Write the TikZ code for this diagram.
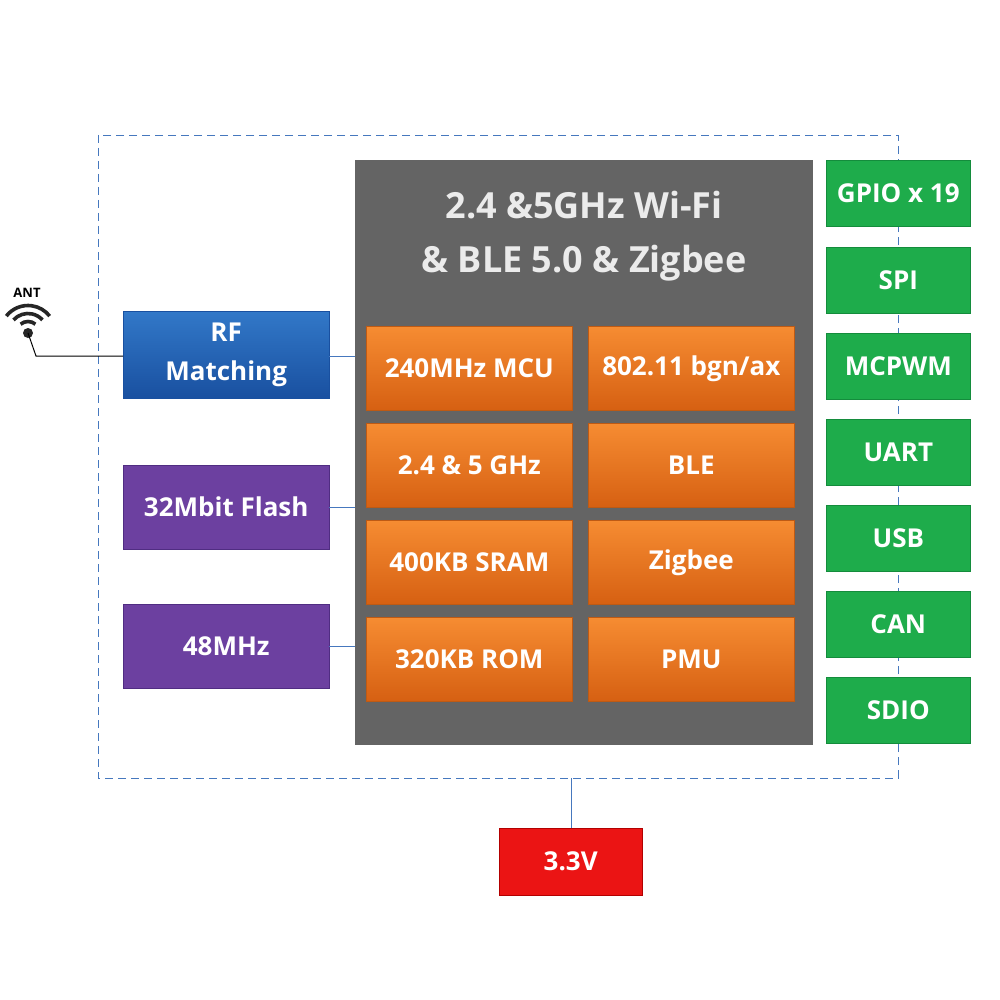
\documentclass[tikz,border=0pt]{standalone}
\usepackage{fontspec}
\setmainfont{Open Sans}
\definecolor{cOrT}{RGB}{246,140,50}
\definecolor{cOrB}{RGB}{214,96,18}
\definecolor{cOrD}{RGB}{190,90,20}
\definecolor{cGr}{RGB}{30,172,75}
\definecolor{cGrD}{RGB}{20,140,60}
\definecolor{cBlT}{RGB}{50,120,200}
\definecolor{cBlB}{RGB}{25,80,160}
\definecolor{cPu}{RGB}{108,64,160}
\definecolor{cPuD}{RGB}{80,45,130}
\definecolor{cRd}{RGB}{235,20,20}
\definecolor{cGy}{RGB}{100,100,100}
\definecolor{cLn}{RGB}{70,120,190}
\begin{document}
\begin{tikzpicture}[x=1pt,y=-1pt,
 box/.style={draw=none,minimum width=#1,inner sep=0pt,text=white,font=\bfseries\fontsize{26}{32}\selectfont,align=center,anchor=north west},
 org/.style={box=206pt,minimum height=84pt,top color=cOrT,bottom color=cOrB,draw=cOrD,line width=0.6pt},
 grn/.style={box=144pt,minimum height=66pt,fill=cGr,draw=cGrD,line width=0.6pt},
 lnk/.style={draw=cLn,line width=0.9pt},
 wave/.style={black!85,line width=3.6pt}]
\useasboundingbox (0,0) rectangle (1000,1000);
\fill[white] (0,0) rectangle (1000,1000);
\draw[cLn,line width=0.9pt,dash pattern=on 8pt off 5pt] (98,135) rectangle (898,778);
\node[box=458pt,minimum height=585pt,fill=cGy] (soc) at (355,160) {};
\node[text=black!8,font=\bfseries\fontsize{36}{54}\selectfont,align=center] (title) at (584,236) {2.4 \&5GHz Wi-Fi\\\& BLE 5.0 \& Zigbee};
\node[org] (mcu) at (366,326) {240MHz MCU};
\node[org] (wifi) at (588,326) {802.11 bgn/ax};
\node[org] (ghz) at (366,423) {2.4 \& 5 GHz};
\node[org] (ble) at (588,423) {BLE};
\node[org] (sram) at (366,520) {400KB SRAM};
\node[org] (zig) at (588,520) {Zigbee};
\node[org] (rom) at (366,617) {320KB ROM};
\node[org] (pmu) at (588,617) {PMU};
\node[grn] (gpio) at (826,160) {GPIO x 19};
\node[grn] (spi) at (826,247) {SPI};
\node[grn] (pwm) at (826,333) {MCPWM};
\node[grn] (uart) at (826,419) {UART};
\node[grn] (usb) at (826,505) {USB};
\node[grn] (can) at (826,591) {CAN};
\node[grn] (sdio) at (826,677) {SDIO};
\node[box=206pt,minimum height=87pt,top color=cBlT,bottom color=cBlB,draw=cBlB,font=\bfseries\fontsize{26}{39}\selectfont] (rf) at (123,311) {RF\\Matching};
\node[box=206pt,minimum height=84pt,fill=cPu,draw=cPuD] (flash) at (123,465) {32Mbit Flash};
\node[box=206pt,minimum height=84pt,fill=cPu,draw=cPuD] (osc) at (123,604) {48MHz};
\node[box=143pt,minimum height=67pt,fill=cRd,draw=red!70!black] (pwr) at (499,828) {3.3V};
\draw[lnk] (rf.east |- 0,356) -- (soc.west |- 0,356);
\draw[lnk] (flash.east) -- (soc.west |- flash.east);
\draw[lnk] (osc.east) -- (soc.west |- osc.east);
\coordinate (bt) at (571,778);
\draw[lnk] (bt) -- (pwr.north -| bt);
% antenna
\node[font=\fontsize{13}{15}\selectfont\bfseries] (ant) at (27,293) {ANT};
\coordinate (ac) at (28,333);
\fill[black!85] (ac) circle (5);
\draw[wave] ([shift={(230:11.5)}]ac) arc[start angle=230,end angle=310,radius=11.5];
\draw[wave] ([shift={(222:19.5)}]ac) arc[start angle=222,end angle=318,radius=19.5];
\draw[wave] ([shift={(218:27.5)}]ac) arc[start angle=218,end angle=322,radius=27.5];
\coordinate (af) at (36,356);
\draw[black,line width=1pt] (ac) -- (af) -- (rf.west |- af);
\end{tikzpicture}
\end{document}
